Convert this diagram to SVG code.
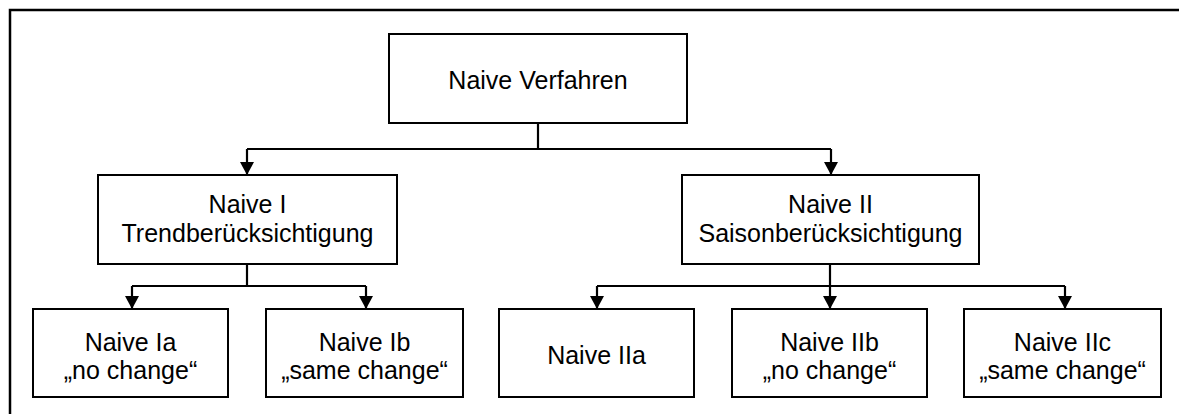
<svg xmlns="http://www.w3.org/2000/svg" width="1179" height="414" viewBox="0 0 1179 414">
<style>
.frame{fill:none;stroke:#000;stroke-width:2.5}
.box{fill:#fff;stroke:#000;stroke-width:2}
.conn{fill:none;stroke:#000;stroke-width:2.2}
.lbl{font-family:"Liberation Sans",Arial,sans-serif;font-size:25px;fill:#000;text-anchor:middle}
</style>
<defs>
<marker id="arr" markerUnits="userSpaceOnUse" markerWidth="14" markerHeight="14" viewBox="0 0 13 14" refX="13" refY="7" orient="auto">
<path d="M0,0 L13,7 L0,14 Z" fill="#000"/>
</marker>
</defs>
<rect class="frame" x="10" y="10" width="1180" height="420"/>
<g id="connectors">
<path class="conn" d="M538,123 V149"/>
<path class="conn" d="M247,149 H831"/>
<path class="conn" d="M247,149 V175" marker-end="url(#arr)"/>
<path class="conn" d="M831,149 V175" marker-end="url(#arr)"/>
<path class="conn" d="M247,264 V286"/>
<path class="conn" d="M132,286 H366"/>
<path class="conn" d="M132,286 V309" marker-end="url(#arr)"/>
<path class="conn" d="M366,286 V309" marker-end="url(#arr)"/>
<path class="conn" d="M830,264 V286"/>
<path class="conn" d="M597,286 H1065"/>
<path class="conn" d="M597,286 V309" marker-end="url(#arr)"/>
<path class="conn" d="M830,286 V309" marker-end="url(#arr)"/>
<path class="conn" d="M1065,286 V309" marker-end="url(#arr)"/>
</g>
<g id="root">
<rect class="box" x="389" y="34" width="298" height="89"/>
<text class="lbl" x="538" y="89">Naive Verfahren</text>
</g>
<g id="naive1">
<rect class="box" x="98" y="175" width="299" height="89"/>
<text class="lbl" x="247.5" y="213">Naive I</text>
<text class="lbl" x="247.5" y="242">Trendberücksichtigung</text>
</g>
<g id="naive2">
<rect class="box" x="682" y="175" width="297" height="89"/>
<text class="lbl" x="830.5" y="213">Naive II</text>
<text class="lbl" x="830.5" y="242">Saisonberücksichtigung</text>
</g>
<g id="naive1a">
<rect class="box" x="33" y="309" width="195" height="88"/>
<text class="lbl" x="130.5" y="351">Naive Ia</text>
<text class="lbl" x="130.5" y="379">„no change“</text>
</g>
<g id="naive1b">
<rect class="box" x="266" y="309" width="197" height="88"/>
<text class="lbl" x="364.5" y="351">Naive Ib</text>
<text class="lbl" x="364.5" y="379">„same change“</text>
</g>
<g id="naive2a">
<rect class="box" x="499" y="309" width="195" height="88"/>
<text class="lbl" x="596.5" y="364">Naive IIa</text>
</g>
<g id="naive2b">
<rect class="box" x="732" y="309" width="195" height="88"/>
<text class="lbl" x="829.5" y="351">Naive IIb</text>
<text class="lbl" x="829.5" y="379">„no change“</text>
</g>
<g id="naive2c">
<rect class="box" x="964" y="309" width="197" height="88"/>
<text class="lbl" x="1062.5" y="351">Naive IIc</text>
<text class="lbl" x="1062.5" y="379">„same change“</text>
</g>
</svg>
